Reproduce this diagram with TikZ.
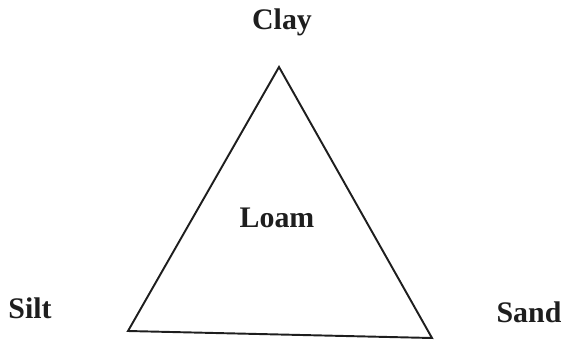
\documentclass[tikz,border=0pt]{standalone}
\usepackage{fontspec}
\setmainfont{Liberation Serif}
\usetikzlibrary{positioning}
\definecolor{SoilInk}{RGB}{30,30,30}
\tikzset{
  soil/label/.style={
    font=\fontsize{17}{20}\selectfont\bfseries,
    text=SoilInk,
    anchor=base,
    inner sep=0pt
  },
  soil/edge/.style={draw=SoilInk, line width=1.1pt, line join=miter}
}

\begin{document}
\begin{tikzpicture}[x=0.02cm,y=-0.02cm]
  \useasboundingbox (0,0) rectangle (565,339);
  % corners of the triangle
  \coordinate (top) at (279,67);
  \coordinate (left) at (128,331);
  \coordinate (right) at (432,338);
  \node[soil/label] (clay) at (282,29) {Clay};
  \node[soil/label] (loam) at (277,227) {Loam};
  \node[soil/label] (silt) at (30,318) {Silt};
  \node[soil/label] (sand) at (529,322) {Sand};
  \draw[soil/edge] (top) -- (right) -- (left) -- cycle;
\end{tikzpicture}
\end{document}
